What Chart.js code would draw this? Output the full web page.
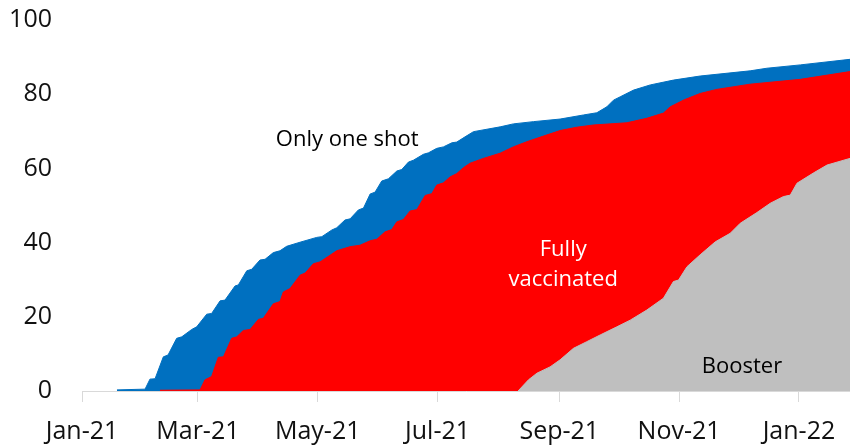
<!DOCTYPE html>
<html>
<head>
<meta charset="utf-8">
<script src="https://cdn.jsdelivr.net/npm/chart.js@4/dist/chart.umd.min.js"></script>
<style>
  html, body { margin: 0; padding: 0; background: #fff; }
</style>
</head>
<body>
<canvas id="grafico" width="850" height="447"></canvas>
<script>
// dias contados desde el 1 de enero de 2021, valores en % de la poblacion
const tickDays = [0, 59, 120, 181, 243, 304, 365];
const tickLabels = ["Jan-21", "Mar-21", "May-21", "Jul-21", "Sep-21", "Nov-21", "Jan-22"];

// al menos una dosis (area azul)
const oneDoseDays = [17.8, 32.1, 34.6, 37.2, 41.4, 43.8, 48.2, 50.8, 55.9, 58.4, 63.5, 66, 70.3, 72.8, 77.9, 79.6,
  83.9, 86.4, 90.6, 93.2, 97.4, 100.8, 104.2, 111, 119.5, 122.1, 127.2, 129.7, 133.9, 136.5, 140.7, 143.3,
  146.7, 149.2, 152.6, 156, 160.3, 162.8, 166.2, 168.7, 173.8, 176.4, 180.6, 184, 188.3, 190.8, 195, 199.3,
  212.9, 219.6, 229.8, 243.4, 255.3, 262.1, 267.2, 270.6, 274, 280.8, 289.3, 301.1, 314.7, 340.2, 348.7, 365.7, 391];
const oneDose = [0.3, 0.5, 3.2, 3.3, 9.2, 9.7, 14.2, 14.6, 16.6, 17.3, 20.7, 20.9, 24.3, 24.5, 28.3, 28.6,
  32.4, 32.8, 35.3, 35.5, 37.3, 37.8, 39.0, 40.1, 41.4, 41.6, 43.4, 44.0, 46.1, 46.4, 48.8, 49.3,
  53.1, 53.6, 56.6, 57.2, 59.3, 59.7, 61.7, 62.2, 63.8, 64.2, 65.4, 65.8, 66.9, 67.1, 68.5, 69.9,
  71.2, 72.0, 72.6, 73.3, 74.4, 75.0, 76.6, 78.4, 79.3, 81.1, 82.5, 83.8, 84.9, 86.3, 87.0, 87.9, 89.4];

// pauta completa (area roja)
const fullDays = [39.7, 60.1, 62.6, 66, 69.4, 72, 76.2, 78.8, 82.1, 85.6, 89.8, 92.3, 97.4, 100.8, 102.5, 105.9,
  111, 113.6, 117.8, 121.2, 126.3, 129.7, 136.5, 141.6, 146.7, 150.1, 154.3, 157.7, 160.3, 163.6, 167, 170.5,
  174.7, 178.1, 180.6, 184, 187.4, 190.8, 194.2, 197.6, 204.4, 212.9, 219.6, 226.5, 234.9, 243.4, 251.9, 260.4,
  277.4, 287.5, 296, 299.5, 306.2, 314.7, 323.2, 340.2, 365.7, 391];
const full = [0.2, 0.3, 3.0, 3.9, 9.1, 9.2, 14.2, 14.6, 16.3, 16.6, 19.3, 19.6, 23.5, 24.1, 26.7, 27.6,
  31.2, 31.8, 34.3, 34.8, 36.6, 37.8, 38.9, 39.3, 40.5, 40.9, 42.9, 43.5, 45.6, 46.2, 48.5, 48.9,
  52.7, 53.2, 55.5, 56.1, 57.7, 58.6, 60.2, 61.4, 62.7, 64.1, 65.8, 67.2, 68.7, 70.2, 71.1, 71.7,
  72.3, 73.5, 74.9, 76.6, 78.4, 80.2, 81.3, 82.7, 84.0, 86.1];

// dosis de refuerzo (area gris)
const boosterDays = [222, 227.3, 231.6, 238.3, 243.4, 250.2, 257, 263.8, 272.3, 279.1, 287.5, 296, 301.1, 303.7,
  308, 314.7, 322.4, 330, 335.1, 343.6, 350.4, 357.1, 360.6, 364, 372.5, 379.3, 391];
const booster = [0, 3.0, 4.8, 6.5, 8.4, 11.5, 13.3, 15.1, 17.3, 19.1, 21.8, 25.0, 29.5, 29.9,
  33.5, 36.7, 40.2, 42.5, 45.2, 48.1, 50.6, 52.4, 52.8, 56.0, 58.8, 60.9, 62.7];

// etiquetas dentro del grafico: [texto, dia, valor, color]
const etiquetas = [
  ["Only one shot", 135, 67.7, "#000000"],
  ["Fully", 245, 38, "#ffffff"],
  ["vaccinated", 245, 29.9, "#ffffff"],
  ["Booster", 336, 6.5, "#000000"]
];

const puntos = (xs, ys) => xs.map((x, i) => ({ x: x, y: ys[i] }));

const textoEtiquetas = {
  id: "textoEtiquetas",
  afterDatasetsDraw(chart) {
    const ctx = chart.ctx;
    const sx = chart.scales.x, sy = chart.scales.y;
    ctx.save();
    ctx.font = "22px 'Open Sans'";
    ctx.textAlign = "center";
    ctx.textBaseline = "middle";
    etiquetas.forEach(([t, d, v, c]) => {
      ctx.fillStyle = c;
      ctx.fillText(t, sx.getPixelForValue(d), sy.getPixelForValue(v));
    });
    ctx.restore();
  }
};

new Chart(document.getElementById("grafico"), {
  type: "line",
  data: {
    datasets: [
      {
        label: "Booster",
        data: puntos(boosterDays, booster),
        backgroundColor: "#bfbfbf",
        borderColor: "#bfbfbf",
        borderWidth: 1,
        fill: "origin",
        order: 1
      },
      {
        label: "Fully vaccinated",
        data: puntos(fullDays, full),
        backgroundColor: "#ff0000",
        borderColor: "#ff0000",
        borderWidth: 1,
        fill: "origin",
        order: 2
      },
      {
        label: "Only one shot",
        data: puntos(oneDoseDays, oneDose),
        backgroundColor: "#0070c0",
        borderColor: "#0070c0",
        borderWidth: 1,
        fill: "origin",
        order: 3
      }
    ]
  },
  options: {
    responsive: false,
    animation: false,
    layout: { padding: { top: 20, left: 0, right: 0, bottom: 0 } },
    elements: { point: { radius: 0 }, line: { tension: 0 } },
    plugins: { legend: { display: false }, tooltip: { enabled: false } },
    scales: {
      x: {
        type: "linear",
        min: 0,
        max: 391,
        afterBuildTicks: (scale) => { scale.ticks = tickDays.map(v => ({ value: v })); },
        afterFit: (scale) => {
          scale.height = 56;
          scale.paddingLeft = 0;
          scale.paddingRight = 0;
        },
        grid: { drawOnChartArea: false, drawTicks: true, tickLength: 11, color: "#d9d9d9" },
        border: { color: "#d9d9d9", width: 1 },
        ticks: {
          autoSkip: false,
          maxRotation: 0,
          padding: 15,
          color: "#111111",
          font: { family: "'Open Sans'", size: 25 },
          callback: (value, index) => tickLabels[index]
        }
      },
      y: {
        min: 0,
        max: 100,
        afterFit: (scale) => {
          scale.width = 82;
          scale.paddingTop = 0;
          scale.paddingBottom = 0;
        },
        grid: { display: false, drawTicks: false },
        border: { display: false },
        ticks: {
          stepSize: 20,
          padding: 30,
          color: "#111111",
          font: { family: "'Open Sans'", size: 25 }
        }
      }
    }
  },
  plugins: [textoEtiquetas]
});
</script>
</body>
</html>
